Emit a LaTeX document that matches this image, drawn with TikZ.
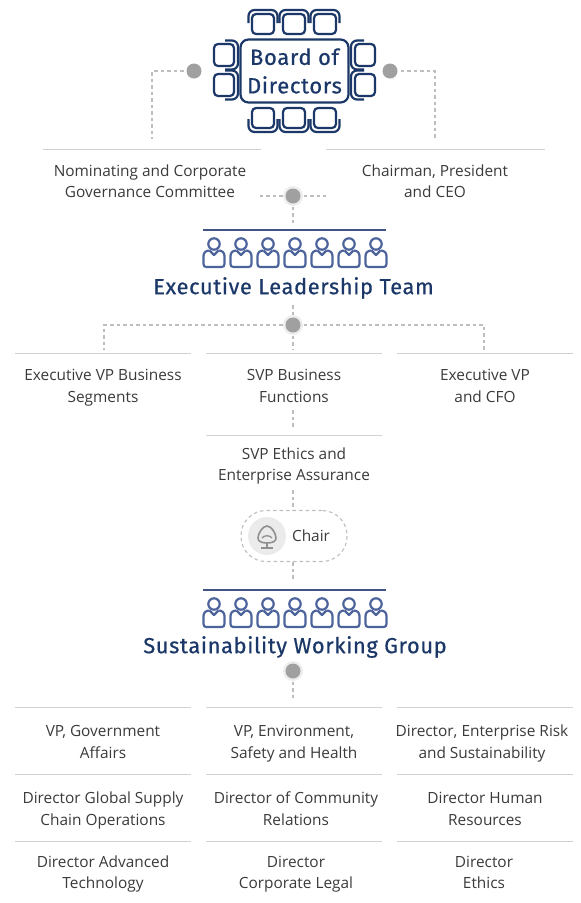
\documentclass[tikz,border=0pt]{standalone}
\usepackage{fontspec}
\setmainfont{Open Sans}
\newfontfamily\headfont[LetterSpace=3,FakeBold=0.6]{Fira Sans}
\usetikzlibrary{calc}
\definecolor{navy}{HTML}{1B3868}
\definecolor{peep}{HTML}{4C639B}
\definecolor{rulecol}{HTML}{D2D2D2}
\definecolor{dashcol}{HTML}{BEBEBE}
\definecolor{dotcol}{HTML}{A0A0A0}
\definecolor{txt}{HTML}{3A3A3A}
\newcommand{\tl}[1]{\strut #1}
\tikzset{
  x=1pt,y=-1pt,
  lab/.style={align=center,text=txt,font=\fontsize{15.4}{21.5}\selectfont,inner sep=0pt,yshift=-1.5pt},
  head/.style={text=navy,font=\headfont\fontsize{21.8}{24}\selectfont,inner sep=0pt},
  boardtxt/.style={text=navy,align=center,font=\headfont\fontsize{22}{28.5}\selectfont,inner sep=0pt},
  rulel/.style={rulecol,line width=1pt},
  toprule/.style={draw=peep!85!black,line width=1.6pt},
  conn/.style={dashcol,line width=1.1pt,dash pattern=on 3.5pt off 3pt},
  dot/.style={circle,fill=dotcol,minimum size=15pt,inner sep=0pt,outer sep=3pt},
  halo/.style={circle,fill=black!7,minimum size=20pt,inner sep=0pt},
  chairl/.style={navy,line width=2.2pt,rounded corners=4pt},
  peepl/.style={peep,line width=2.2pt,line join=round},
}
\newcommand{\boardseat}[3]{%
  \begin{scope}[shift={(#1,#2)},rotate=#3]
    \draw[chairl] (-11,-10) rectangle (11,10);
    \draw[chairl,rounded corners=6pt] (-14.5,-1) -- (-14.5,-14) -- (14.5,-14) -- (14.5,-1);
  \end{scope}}
\newcommand{\peoplerow}[1]{%
  \foreach \px in {214,241,268,295,322,349,376}{%
    \begin{scope}[shift={(\px,#1)}]
      \draw[peepl] (0,7) circle (5.7);
      \draw[peepl] (-4.5,13.5) .. controls (-8,13.5) and (-10.5,15.5) .. (-10.5,19) -- (-10.5,27) .. controls (-10.5,29) and (-9.5,30) .. (-7.5,30) -- (7.5,30) .. controls (9.5,30) and (10.5,29) .. (10.5,27) -- (10.5,19) .. controls (10.5,15.5) and (8,13.5) .. (4.5,13.5);
      \draw[peepl] (-4.5,13.5) -- (0,18) -- (4.5,13.5);
    \end{scope}}}
\begin{document}
\begin{tikzpicture}
\useasboundingbox (0,0) rectangle (581,903);
% board
\node[draw=navy,line width=2.2pt,rounded corners=8pt,minimum width=108pt,minimum height=63pt,boardtxt] (board) at (294.5,71) {Board of\\Directors};
\foreach \cx in {263,294,325}{\boardseat{\cx}{24}{0}\boardseat{\cx}{118}{180}}
\foreach \cy in {55,85}{\boardseat{224}{\cy}{-90}\boardseat{365}{\cy}{90}}
% dots row 1
\node[dot] (dl) at (194,71) {};
\node[dot] (dr) at (390,71) {};
\coordinate (lEnd) at (152,139);
\coordinate (rEnd) at (435,139);
\draw[conn] (dl) -| (lEnd);
\draw[conn] (dr) -| (rEnd);
% level 1
\draw[rulel] (43,149) -- (261,149);
\draw[rulel] (326,149) -- (545,149);
\node[lab] (nom) at (150,181) {\tl{Nominating and Corporate}\\\tl{Governance Committee}};
\node[lab] (cha) at (435,181) {\tl{Chairman, President}\\\tl{and CEO}};
\node[halo] at (293,196) {};
\node[dot] (dm) at (293,196) {};
\coordinate (mL) at (260,196);
\coordinate (mR) at (326,196);
\coordinate (mDown) at (293,226);
\draw[conn] (dm) -- (mL);
\draw[conn] (dm) -- (mR);
\draw[conn] (dm) -- (mDown);
% ELT
\draw[toprule] (203,230) -- (386,230);
\peoplerow{237}
\node[head] (elt) at (293.5,288) {Executive Leadership Team};
\coordinate (eltBelow) at (293,305);
\node[halo] at (293,325) {};
\node[dot] (d2) at (293,325) {};
\draw[conn] (eltBelow) -- (d2);
\coordinate (a1) at (104,350);
\coordinate (a2) at (293,350);
\coordinate (a3) at (484,350);
\draw[conn] (d2) -| (a1);
\draw[conn] (d2) -| (a3);
\draw[conn] (d2) -- (a2);
% level 2
\draw[rulel] (15,353) -- (191,353);
\draw[rulel] (206,353) -- (382,353);
\draw[rulel] (397,353) -- (573,353);
\node[lab] (evb) at (103,385.5) {\tl{Executive VP Business}\\\tl{Segments}};
\node[lab] (svb) at (294,385.5) {\tl{SVP Business}\\\tl{Functions}};
\node[lab] (evc) at (485,385.5) {\tl{Executive VP}\\\tl{and CFO}};
\coordinate (f1) at (293,428);
\coordinate (f1a) at (293,410);
\draw[conn] (f1a) -- (f1);
\draw[rulel] (206,435) -- (382,435);
\node[lab] (sve) at (294,464) {\tl{SVP Ethics and}\\\tl{Enterprise Assurance}};
% chair
\node[draw=dashcol,line width=1.1pt,dash pattern=on 3.5pt off 3pt,rounded corners=25pt,minimum width=106pt,minimum height=51pt] (pill) at (294,536) {};
\coordinate (f0) at (293,490);
\draw[conn] (f0) -- (pill.north -| f0);
\node[circle,fill=black!8,minimum size=38pt,inner sep=0pt] (cic) at (267,536) {};
\draw[dotcol!90!black,line width=1.6pt] (267,526) .. controls (271,526) and (276,533) .. (276,538) .. controls (276,541) and (273,543) .. (267,543) .. controls (261,543) and (258,541) .. (258,538) .. controls (258,533) and (263,526) .. (267,526) -- cycle;
\draw[dotcol!90!black,line width=1.3pt] (262,538) .. controls (264,535) and (270,535) .. (272,538);
\draw[dotcol!90!black,line width=1.6pt] (267,543) -- (267,547) (261,548) -- (273,548);
\node[lab] (chr) at (311,534.5) {Chair};
\coordinate (f2) at (293,580);
\draw[conn] (pill.south -| f2) -- (f2);
% SWG
\draw[toprule] (203,590) -- (386,590);
\peoplerow{597}
\node[head] (swg) at (295,647) {Sustainability Working Group};
\node[halo] at (293,671) {};
\node[dot] (d3) at (293,671) {};
\coordinate (f3) at (293,700);
\draw[conn] (d3) -- (f3);
% grid
\foreach \ry in {707,774,841}{
  \draw[rulel] (15,\ry) -- (191,\ry);
  \draw[rulel] (206,\ry) -- (382,\ry);
  \draw[rulel] (397,\ry) -- (573,\ry);}
\node[lab] (g1) at (103,741.5) {\tl{VP, Government}\\\tl{Affairs}};
\node[lab] (g2) at (294,741.5) {\tl{VP, Environment,}\\\tl{Safety and Health}};
\node[lab] (g3) at (482,741.5) {\tl{Director, Enterprise Risk}\\\tl{and Sustainability}};
\node[lab] (g4) at (103,808.5) {\tl{Director Global Supply}\\\tl{Chain Operations}};
\node[lab] (g5) at (296,808.5) {\tl{Director of Community}\\\tl{Relations}};
\node[lab] (g6) at (485,808.5) {\tl{Director Human}\\\tl{Resources}};
\node[lab] (g7) at (103,872) {\tl{Director Advanced}\\\tl{Technology}};
\node[lab] (g8) at (296,872) {\tl{Director}\\\tl{Corporate Legal}};
\node[lab] (g9) at (484,872) {\tl{Director}\\\tl{Ethics}};
\end{tikzpicture}
\end{document}
